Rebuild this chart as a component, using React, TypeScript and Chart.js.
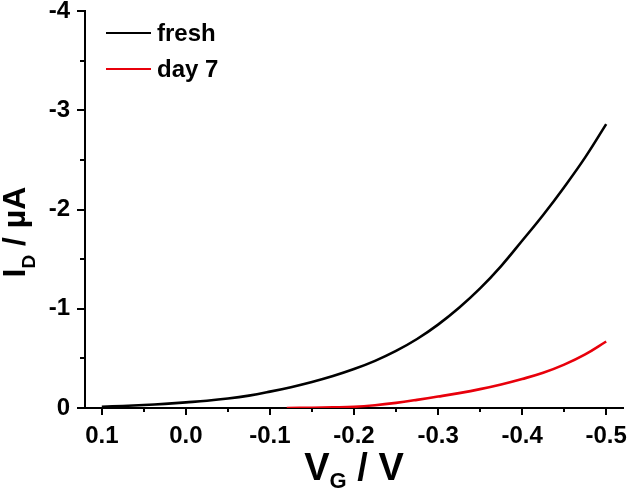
import React, { useEffect, useRef } from "react";
import { Chart, registerables } from "chart.js";

Chart.register(...registerables);

// ---- data ----
const FRESH_V = [0.1, 0.075, 0.05, 0.025, 0.0, -0.025, -0.05, -0.075, -0.1, -0.125, -0.15, -0.175, -0.2, -0.225, -0.25, -0.275, -0.3, -0.325, -0.35, -0.375, -0.4, -0.425, -0.45, -0.475, -0.5];
const FRESH_I = [-0.013, -0.02, -0.03, -0.042, -0.057, -0.073, -0.095, -0.125, -0.165, -0.21, -0.262, -0.322, -0.392, -0.475, -0.575, -0.695, -0.84, -1.01, -1.205, -1.43, -1.685, -1.945, -2.225, -2.525, -2.86];
const DAY7_V = [-0.12, -0.15, -0.175, -0.2, -0.225, -0.25, -0.275, -0.3, -0.325, -0.35, -0.375, -0.4, -0.425, -0.45, -0.475, -0.5];
const DAY7_I = [0, -0.002, -0.006, -0.012, -0.028, -0.052, -0.082, -0.115, -0.15, -0.19, -0.237, -0.292, -0.355, -0.437, -0.54, -0.67];
const SERIES_LABELS = ["fresh", "day 7"];
const SERIES_COLORS = ["#000000", "#e8000b"];

const X_TICKS = [0.1, 0.0, -0.1, -0.2, -0.3, -0.4, -0.5];
const X_LABELS = ["0.1", "0.0", "-0.1", "-0.2", "-0.3", "-0.4", "-0.5"];
const X_MINOR = [0.05, -0.05, -0.15, -0.25, -0.35, -0.45];
const Y_TICKS = [0, -1, -2, -3, -4];
const Y_LABELS = ["0", "-1", "-2", "-3", "-4"];
const Y_MINOR = [-0.5, -1.5, -2.5, -3.5];
const X_RANGE = [-0.52, 0.12];
const Y_RANGE = [-4, 0];

const FONT = "'Liberation Sans', Arial, Helvetica, sans-serif";

type Seg = { text: string; size: number; dy: number };

function drawRich(ctx: CanvasRenderingContext2D, segs: Seg[], cx: number, baseY: number) {
  let total = 0;
  for (const s of segs) {
    ctx.font = `bold ${s.size}px ${FONT}`;
    total += ctx.measureText(s.text).width;
  }
  let x = cx - total / 2;
  ctx.textBaseline = "alphabetic";
  ctx.textAlign = "left";
  for (const s of segs) {
    ctx.font = `bold ${s.size}px ${FONT}`;
    ctx.fillText(s.text, x, baseY + s.dy);
    x += ctx.measureText(s.text).width;
  }
}

const decorPlugin = {
  id: "decor",
  afterDraw(chart: any) {
    const { ctx, chartArea } = chart;
    const xs = chart.scales.x;
    const ys = chart.scales.y;
    ctx.save();
    ctx.strokeStyle = "#000";
    ctx.fillStyle = "#000";
    ctx.lineWidth = 2;
    const drawX = (v: number, len: number) => {
      const px = Math.round(xs.getPixelForValue(v));
      ctx.beginPath();
      ctx.moveTo(px, chartArea.bottom);
      ctx.lineTo(px, chartArea.bottom + len);
      ctx.stroke();
    };
    X_TICKS.forEach((v) => drawX(v, 7));
    X_MINOR.forEach((v) => drawX(v, 4));
    const drawY = (v: number, len: number) => {
      const py = Math.round(ys.getPixelForValue(v));
      ctx.beginPath();
      ctx.moveTo(chartArea.left, py);
      ctx.lineTo(chartArea.left - len, py);
      ctx.stroke();
    };
    Y_TICKS.forEach((v) => drawY(v, 8));
    Y_MINOR.forEach((v) => drawY(v, 5));

    // x title
    drawRich(
      ctx,
      [
        { text: "V", size: 38, dy: 0 },
        { text: "G", size: 22, dy: 8 },
        { text: " / V", size: 38, dy: 0 },
      ],
      354,
      480
    );
    // y title (rotated)
    ctx.save();
    ctx.translate(25, 232);
    ctx.rotate(-Math.PI / 2);
    drawRich(
      ctx,
      [
        { text: "I", size: 32, dy: 0 },
        { text: "D", size: 19, dy: 10 },
        { text: " / \u00b5A", size: 32, dy: 0 },
      ],
      0,
      0
    );
    ctx.restore();

    // legend
    const rows = [33, 69];
    chart.data.datasets.forEach((ds: any, i: number) => {
      const y = rows[i];
      ctx.strokeStyle = ds.borderColor;
      ctx.lineWidth = 2;
      ctx.beginPath();
      ctx.moveTo(chartArea.left + 21, y);
      ctx.lineTo(chartArea.left + 66, y);
      ctx.stroke();
      ctx.fillStyle = "#000";
      ctx.font = `bold 24px ${FONT}`;
      ctx.textAlign = "left";
      ctx.textBaseline = "alphabetic";
      ctx.fillText(ds.label, chartArea.left + 72, y + 8);
    });
    ctx.restore();
  },
};

export default function App() {
  const ref = useRef<HTMLCanvasElement | null>(null);
  useEffect(() => {
    document.body.style.margin = "0";
    const canvas = ref.current;
    if (!canvas) return;
    const mk = (vs: number[], is: number[]) => vs.map((v, k) => ({ x: v, y: is[k] }));
    const chart = new Chart(canvas, {
      type: "line",
      data: {
        datasets: [
          {
            label: SERIES_LABELS[0],
            data: mk(FRESH_V, FRESH_I),
            borderColor: SERIES_COLORS[0],
            borderWidth: 2.6,
            pointRadius: 0,
            tension: 0.4,
          },
          {
            label: SERIES_LABELS[1],
            data: mk(DAY7_V, DAY7_I),
            borderColor: SERIES_COLORS[1],
            borderWidth: 2.6,
            pointRadius: 0,
            tension: 0.4,
          },
        ],
      },
      options: {
        animation: false,
        responsive: true,
        maintainAspectRatio: false,
        layout: { padding: { left: 0, top: 11, right: 7, bottom: 0 } },
        plugins: { legend: { display: false }, tooltip: { enabled: false } },
        scales: {
          x: {
            type: "linear",
            min: X_RANGE[0],
            max: X_RANGE[1],
            reverse: true,
            grid: { display: false, drawTicks: false },
            border: { display: true, color: "#000", width: 2 },
            afterBuildTicks: (s: any) => {
              s.ticks = X_TICKS.map((v) => ({ value: v }));
            },
            afterFit: (s: any) => {
              s.height = 83;
              s.paddingLeft = 0;
              s.paddingRight = 0;
            },
            ticks: {
              autoSkip: false,
              maxRotation: 0,
              padding: 14,
              color: "#000",
              font: { family: FONT, size: 24, weight: "bold" },
              callback: (_v: any, i: number) => X_LABELS[i],
            },
          },
          y: {
            type: "linear",
            min: Y_RANGE[0],
            max: Y_RANGE[1],
            reverse: true,
            grid: { display: false, drawTicks: false },
            border: { display: true, color: "#000", width: 2 },
            afterBuildTicks: (s: any) => {
              s.ticks = Y_TICKS.map((v) => ({ value: v }));
            },
            afterFit: (s: any) => {
              s.width = 85;
              s.paddingTop = 0;
              s.paddingBottom = 0;
            },
            ticks: {
              autoSkip: false,
              padding: 15,
              color: "#000",
              font: { family: FONT, size: 24, weight: "bold" },
              callback: (_v: any, i: number) => Y_LABELS[i],
            },
          },
        },
      },
      plugins: [decorPlugin],
    } as any);
    return () => chart.destroy();
  }, []);
  return (
    <div style={{ position: "fixed", left: 0, top: 0, width: 630, height: 491, background: "#fff" }}>
      <canvas ref={ref} />
    </div>
  );
}
